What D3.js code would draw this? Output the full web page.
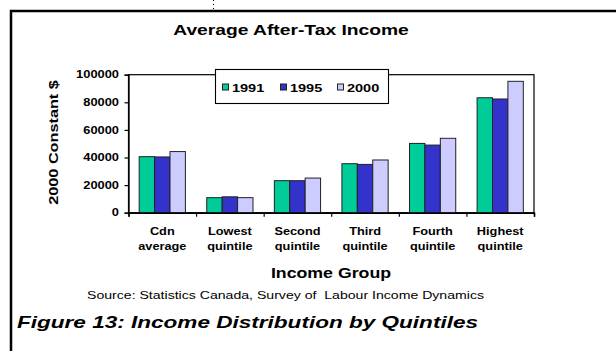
<!DOCTYPE html>
<html>
<head>
<meta charset="utf-8">
<script src="https://cdn.jsdelivr.net/npm/d3@7"></script>
<style>
  html, body { margin: 0; padding: 0; background: #fff; }
  svg { display: block; font-family: Arial, "Liberation Sans", sans-serif; }
  .pre { white-space: pre; }
</style>
</head>
<body>
<svg id="chart" width="616" height="351"></svg>
<script>
// Income groups (two-line labels) and after-tax income per year, 2000 constant dollars
const categories = [
  ["Cdn", "average"],
  ["Lowest", "quintile"],
  ["Second", "quintile"],
  ["Third", "quintile"],
  ["Fourth", "quintile"],
  ["Highest", "quintile"]
];
const years = ["1991", "1995", "2000"];
const income1991 = [40600, 10900, 23200, 35500, 50200, 83300];
const income1995 = [40400, 11500, 23200, 35000, 49000, 82400];
const income2000 = [44300, 10900, 25100, 38200, 53900, 95200];
const yTicks = [0, 20000, 40000, 60000, 80000, 100000];
const seriesColors = ["#00CC99", "#3333CC", "#CCCCFF"];

const series = [income1991, income1995, income2000];
const svg = d3.select("#chart");
const SX = 1.25; // glyphs in this figure are set wide

// text helper: horizontally widened glyphs anchored at (x, y)
function label(g, x, y, str, size, weight, anchor, rotate) {
  return g.append("text")
    .attr("transform", `translate(${x},${y})` + (rotate ? ` rotate(${rotate})` : "") + ` scale(${SX},1)`)
    .attr("text-anchor", anchor)
    .attr("font-size", size)
    .attr("font-weight", weight)
    .attr("fill", "#000")
    .text(str);
}

// outer frame (top and left edges) and the small dotted guide above it
svg.append("path").attr("d", "M11,351 L11,11 L616,11")
  .attr("fill", "none").attr("stroke", "#000").attr("stroke-width", 2.5);
svg.append("line").attr("x1", 213.5).attr("x2", 213.5).attr("y1", 0).attr("y2", 10)
  .attr("stroke", "#000").attr("stroke-width", 1).attr("stroke-dasharray", "1,3");

const plot = { left: 128.5, right: 534, top: 74.7, bottom: 212.7 };

const x = d3.scaleBand().domain(d3.range(categories.length))
  .range([plot.left, plot.right]).paddingInner(0).paddingOuter(0);
const bw = x.bandwidth();
const inner = d3.scaleBand().domain(d3.range(years.length))
  .range([bw * 0.158, bw * 0.842]).padding(0);
const y = d3.scaleLinear().domain([0, 100000]).range([plot.bottom, plot.top]);

// plot area frame
svg.append("rect")
  .attr("x", plot.left).attr("y", plot.top)
  .attr("width", plot.right - plot.left).attr("height", plot.bottom - plot.top)
  .attr("fill", "#fff").attr("stroke", "#000").attr("stroke-width", 1.2);

// bars
const groups = svg.append("g").selectAll("g")
  .data(categories).join("g")
  .attr("transform", (d, i) => `translate(${x(i)},0)`);
groups.selectAll("rect")
  .data((d, i) => series.map((s, k) => ({ k, v: s[i] })))
  .join("rect")
  .attr("x", d => inner(d.k))
  .attr("y", d => y(d.v))
  .attr("width", inner.bandwidth())
  .attr("height", d => y(0) - y(d.v))
  .attr("fill", d => seriesColors[d.k])
  .attr("stroke", "#222")
  .attr("stroke-width", 1);

// y axis
const yAxis = svg.append("g").attr("transform", `translate(${plot.left},0)`)
  .call(d3.axisLeft(y).tickValues(yTicks).tickSize(4).tickFormat(""));
yAxis.select(".domain").attr("stroke", "#000").attr("stroke-width", 1.3);
yAxis.selectAll(".tick line").attr("stroke", "#000").attr("stroke-width", 1.2);
yTicks.forEach(t => label(svg, plot.left - 9.5, y(t) + 3.6, String(t), 10.3, "bold", "end"));

// x axis with ticks at category boundaries
const bounds = d3.range(categories.length + 1).map(i => plot.left + i * bw);
const xAxis = svg.append("g").attr("transform", `translate(0,${plot.bottom})`)
  .call(d3.axisBottom(d3.scaleLinear().domain([plot.left, plot.right]).range([plot.left, plot.right]))
    .tickValues(bounds).tickSize(4).tickFormat(""));
xAxis.select(".domain").attr("stroke", "#000").attr("stroke-width", 1.5);
xAxis.selectAll(".tick line").attr("stroke", "#000").attr("stroke-width", 1.2);
categories.forEach((c, i) => {
  const cx = x(i) + bw / 2;
  label(svg, cx, 235, c[0], 10.2, "bold", "middle");
  label(svg, cx, 249.5, c[1], 10.2, "bold", "middle");
});

// legend
const lg = svg.append("g");
lg.append("rect").attr("x", 215.5).attr("y", 69.5).attr("width", 173).attr("height", 34)
  .attr("fill", "#fff").attr("stroke", "#000").attr("stroke-width", 1.1);
const legendX = [222, 280, 337];
years.forEach((yr, k) => {
  lg.append("rect").attr("x", legendX[k] + 0.5).attr("y", 84).attr("width", 6).attr("height", 6)
    .attr("fill", seriesColors[k]).attr("stroke", "#222").attr("stroke-width", 1);
  label(lg, legendX[k] + 10, 92.3, yr, 11.6, "bold", "start");
});

// titles and notes
label(svg, 291, 35, "Average After-Tax Income", 15.4, "bold", "middle");
label(svg, 57.5, 142.5, "2000 Constant $", 13, "bold", "middle", -90);
label(svg, 331, 277.7, "Income Group", 14.2, "bold", "middle");
svg.append("text").attr("class", "pre").attr("x", 87).attr("y", 299)
  .attr("font-size", 11).attr("textLength", 397).attr("lengthAdjust", "spacingAndGlyphs")
  .text("Source: Statistics Canada, Survey of  Labour Income Dynamics");
svg.append("text").attr("x", 17).attr("y", 328)
  .attr("font-size", 16.5).attr("font-weight", "bold").attr("font-style", "italic")
  .attr("textLength", 461).attr("lengthAdjust", "spacingAndGlyphs")
  .text("Figure 13: Income Distribution by Quintiles");
</script>
</body>
</html>
